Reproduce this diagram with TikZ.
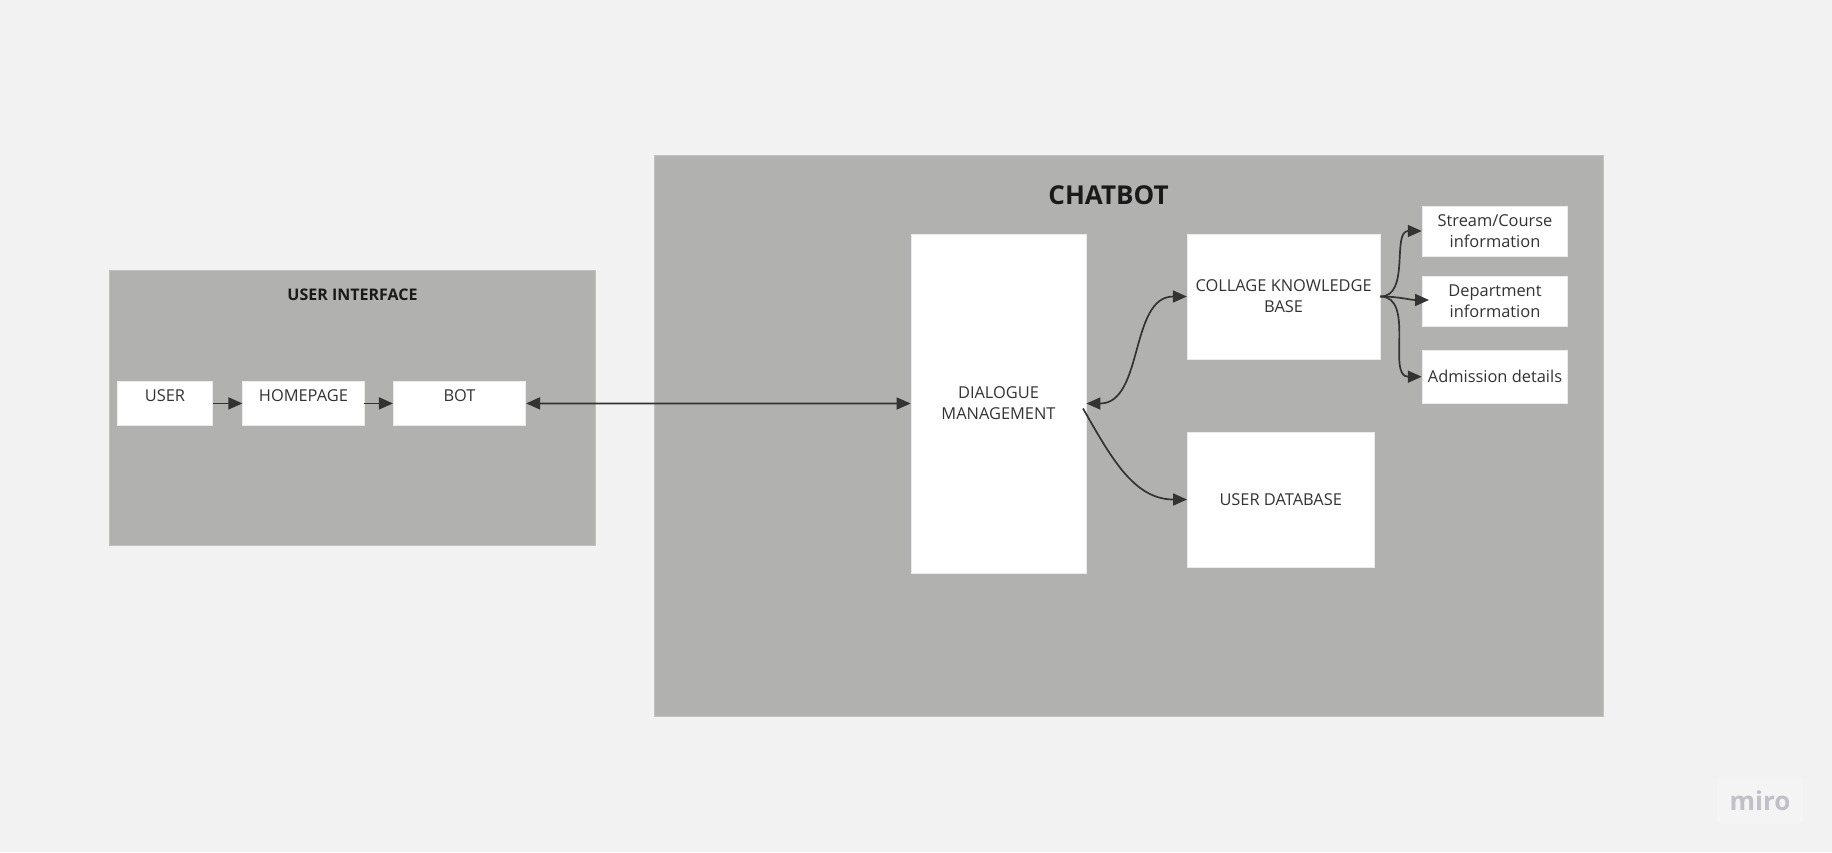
\documentclass[tikz,border=0pt]{standalone}
\usepackage{fontspec}
\setmainfont{Open Sans}
\usetikzlibrary{arrows.meta}

\definecolor{bggray}{HTML}{F2F2F2}
\definecolor{panelgray}{HTML}{B1B1AF}
\definecolor{inkgray}{HTML}{333333}
\definecolor{titleink}{HTML}{1A1A1A}
\definecolor{mirogray}{HTML}{C0C0C8}
\definecolor{logofill}{HTML}{F4F4F4}

\tikzset{
  panel/.style={fill=panelgray, draw=panelgray!80!white, line width=0.5pt},
  wbox/.style={fill=white, draw=white!92!black, line width=0.4pt, inner sep=0pt,
    align=center, text=inkgray, font=\fontsize{8.2}{10.5}\selectfont},
  uibox/.style={wbox, minimum height=22.35pt, text height=6.5pt, text depth=8.1pt},
  paneltitle/.style={text=titleink, font=\bfseries\fontsize{8}{9}\selectfont},
  link/.style={draw=inkgray, line width=0.85pt, -{Triangle[length=7pt,width=6pt]}},
  dlink/.style={link, {Triangle[length=7pt,width=6pt]}-{Triangle[length=7pt,width=6pt]}},
}

\begin{document}
\begin{tikzpicture}[x=0.5pt, y=0.5pt]
  \fill[bggray] (0,0) rectangle (1832,-852);   % canvas

  \draw[panel] (109.3,-270) rectangle (595.7,-545.6);   % user interface
  \node[paneltitle] (uititle) at (352.5,-295) {USER INTERFACE};
  \node[uibox, minimum width=47.7pt] (user) at (165,-403.4) {USER};
  \node[uibox, minimum width=60.65pt] (home) at (303.4,-403.4) {HOMEPAGE};
  \node[uibox, minimum width=66.2pt] (bot) at (459.5,-403.4) {BOT};

  \draw[panel] (654,-155) rectangle (1603,-716);   % chatbot
  \node[paneltitle, font=\bfseries\fontsize{13}{15}\selectfont] (cbtitle) at (1108.5,-195) {CHATBOT};
  \node[wbox, minimum width=87.5pt, minimum height=169.5pt] (dm) at (998.5,-403.5) {DIALOGUE\\MANAGEMENT};
  \node[wbox, minimum width=96.35pt, minimum height=62.5pt] (ckb) at (1283.6,-296.5) {COLLAGE KNOWLEDGE\\BASE};
  \node[wbox, minimum width=93.25pt, minimum height=67.5pt] (udb) at (1280.7,-499.5) {USER DATABASE};
  \node[wbox, minimum width=72.85pt, minimum height=25pt] (stream) at (1495,-231) {Stream/Course\\information};
  \node[wbox, minimum width=72.85pt, minimum height=25pt] (dept) at (1495,-301.7) {Department\\information};
  \node[wbox, minimum width=72.85pt, minimum height=26.65pt] (adm) at (1495,-376.7) {Admission details};

  \draw[link] (user.east) -- (home.west);
  \draw[link] (home.east) -- (bot.west);
  \draw[dlink] (bot.east) -- (dm.west);
  \draw[dlink] (dm.east) to[out=0, in=180] (ckb.west);
  \coordinate (dmout) at (1083,-408.5);
  \draw[link] (dmout) to[out=-60, in=180] (udb.west);
  \draw[link] (ckb.east) to[out=0, in=180] (stream.west);
  \coordinate (deptin) at (1429,-300);
  \draw[link] (ckb.east) to[out=0, in=180] (deptin);
  \draw[link] (ckb.east) to[out=0, in=180] (adm.west);

  % watermark
  \node[fill=logofill, minimum width=43pt, minimum height=22.5pt, text=mirogray,
    font=\bfseries\fontsize{13}{13}\selectfont] (miro) at (1760,-800.5) {miro};
\end{tikzpicture}
\end{document}
